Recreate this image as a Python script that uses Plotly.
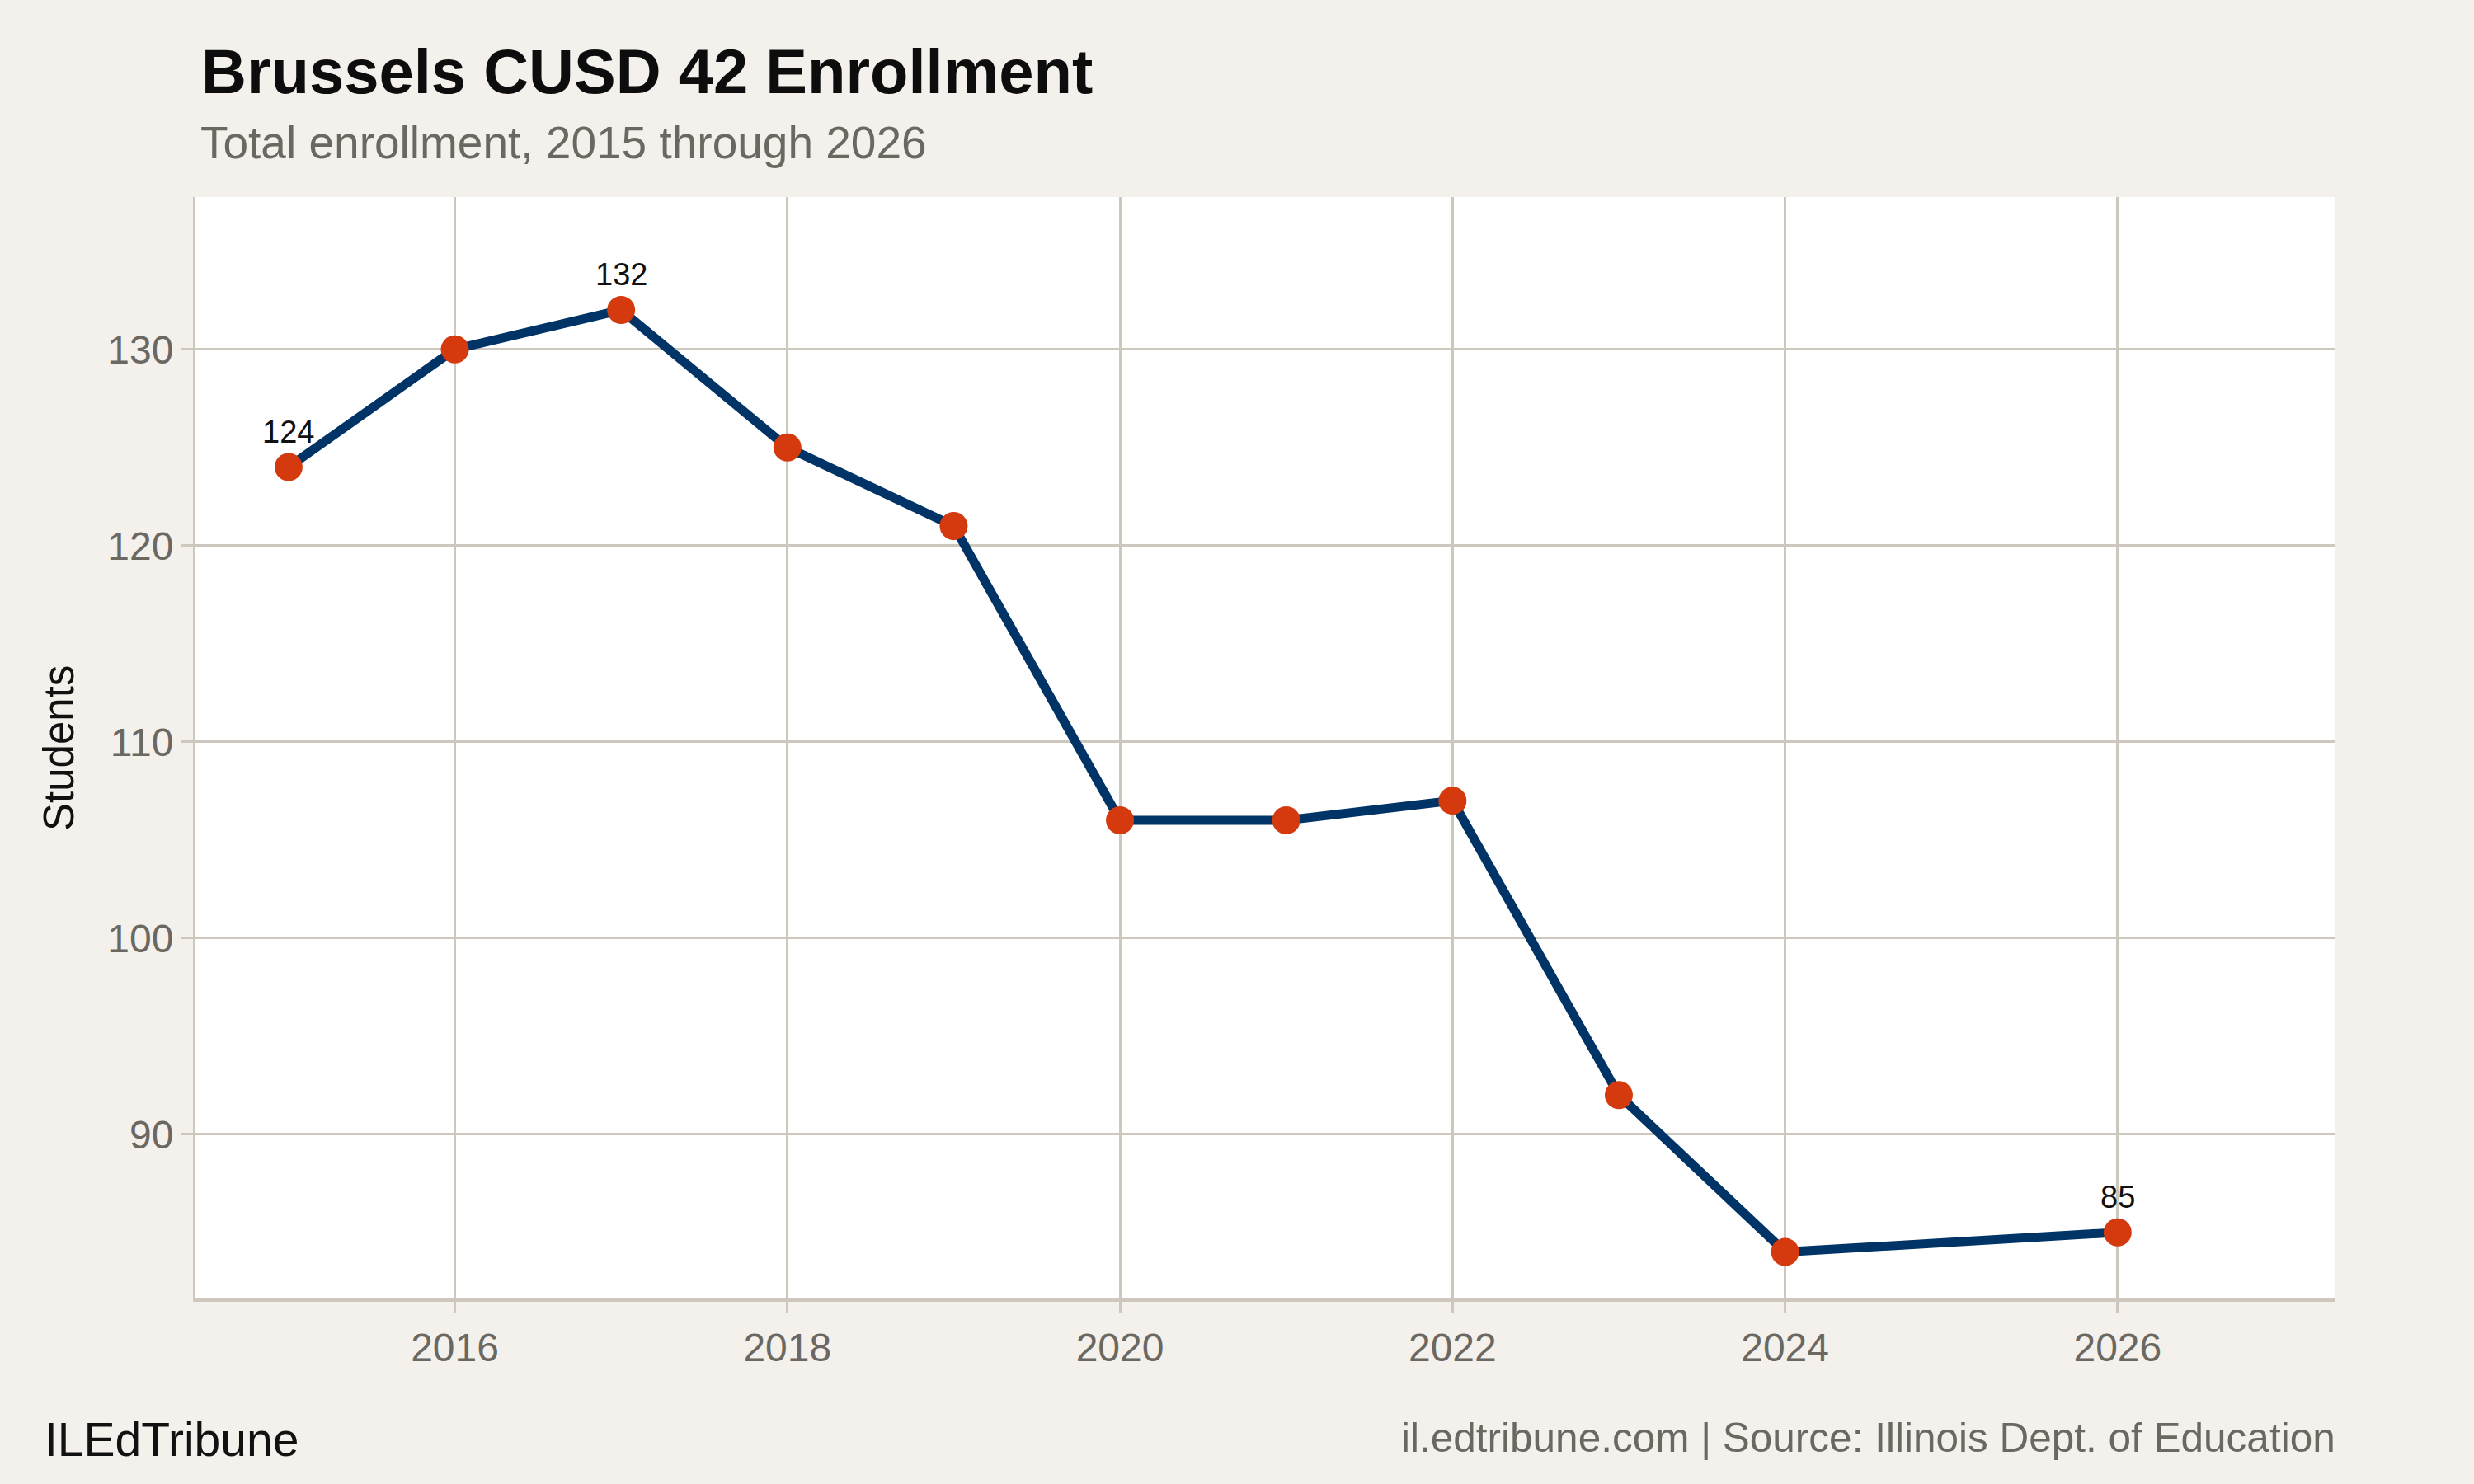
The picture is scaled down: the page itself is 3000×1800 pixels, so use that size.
import plotly.graph_objects as go

years = [2015, 2016, 2017, 2018, 2019, 2020, 2021, 2022, 2023, 2024, 2026]
students = [124, 130, 132, 125, 121, 106, 106, 107, 92, 84, 85]
x_ticks = [2016, 2018, 2020, 2022, 2024, 2026]
y_ticks = [90, 100, 110, 120, 130]

title = "Brussels CUSD 42 Enrollment"
subtitle = "Total enrollment, 2015 through 2026"
y_title = "Students"
footer_left = "ILEdTribune"
footer_right = "il.edtribune.com | Source: Illinois Dept. of Education"

BG = "#f4f1ec"
GRID = "#cdc7bd"
LINE = "#003366"
MARK = "#d43a0e"
TICKTXT = "#6b6862"
FONT = "Liberation Sans, Arial, Helvetica, sans-serif"

W, H = 3000, 1800
L, R, T, B = 237, 168, 239, 225
PW, PH = W - L - R, H - T - B

def px_x(x):
    return (x - L) / PW

def px_y(y):
    return (H - B - y) / PH

fig = go.Figure()
fig.add_trace(go.Scatter(
    x=years, y=students, mode="lines",
    line=dict(color=LINE, width=11), hoverinfo="skip", showlegend=False,
))
fig.add_trace(go.Scatter(
    x=years, y=students, mode="markers",
    marker=dict(color=MARK, size=34, line=dict(width=0)), showlegend=False,
))

# labels: first, max, last
imax = students.index(max(students))
label_idx = sorted({0, imax, len(students) - 1})
annotations = []
for i in label_idx:
    annotations.append(dict(
        x=years[i], y=students[i], xref="x", yref="y",
        text=str(students[i]), showarrow=False,
        yanchor="bottom", yshift=20,
        font=dict(family=FONT, size=38, color="#111111"),
    ))

annotations += [
    dict(x=px_x(242), y=px_y(86), xref="paper", yref="paper", xanchor="left", yanchor="middle",
         text="<b>" + title + "</b>", showarrow=False,
         font=dict(family=FONT, size=76, color="#0d0d0d")),
    dict(x=px_x(241), y=px_y(173), xref="paper", yref="paper", xanchor="left", yanchor="middle",
         text=subtitle, showarrow=False,
         font=dict(family=FONT, size=55, color=TICKTXT)),
    dict(x=px_x(71), y=px_y(908), xref="paper", yref="paper", xanchor="center", yanchor="middle",
         text=y_title, textangle=-90, showarrow=False,
         font=dict(family=FONT, size=51, color="#111111")),
    dict(x=px_x(52), y=px_y(1746), xref="paper", yref="paper", xanchor="left", yanchor="middle",
         text=footer_left, showarrow=False,
         font=dict(family=FONT, size=57, color="#111111")),
    dict(x=px_x(2834), y=px_y(1743), xref="paper", yref="paper", xanchor="right", yanchor="middle",
         text=footer_right, showarrow=False,
         font=dict(family=FONT, size=49.5, color=TICKTXT)),
]

fig.update_layout(
    width=W, height=H,
    margin=dict(l=L, r=R, t=T, b=B, autoexpand=False),
    paper_bgcolor=BG, plot_bgcolor="white",
    annotations=annotations,
    showlegend=False,
)
fig.update_xaxes(
    range=[2014.44, 2027.31], tickvals=x_ticks, ticktext=[str(v) for v in x_ticks],
    showgrid=True, gridcolor=GRID, gridwidth=2.5,
    showline=True, linecolor=GRID, linewidth=4,
    ticks="outside", ticklen=14, tickwidth=2.5, tickcolor=GRID,
    tickfont=dict(family=FONT, size=48, color=TICKTXT), zeroline=False,
)
fig.update_yaxes(
    range=[81.63, 137.76], tickvals=y_ticks, ticktext=[str(v) for v in y_ticks],
    showgrid=True, gridcolor=GRID, gridwidth=2.5,
    showline=True, linecolor=GRID, linewidth=3,
    ticks="outside", ticklen=14, tickwidth=2.5, tickcolor=GRID,
    tickfont=dict(family=FONT, size=48, color=TICKTXT), zeroline=False,
)

fig.write_html("out.html")
